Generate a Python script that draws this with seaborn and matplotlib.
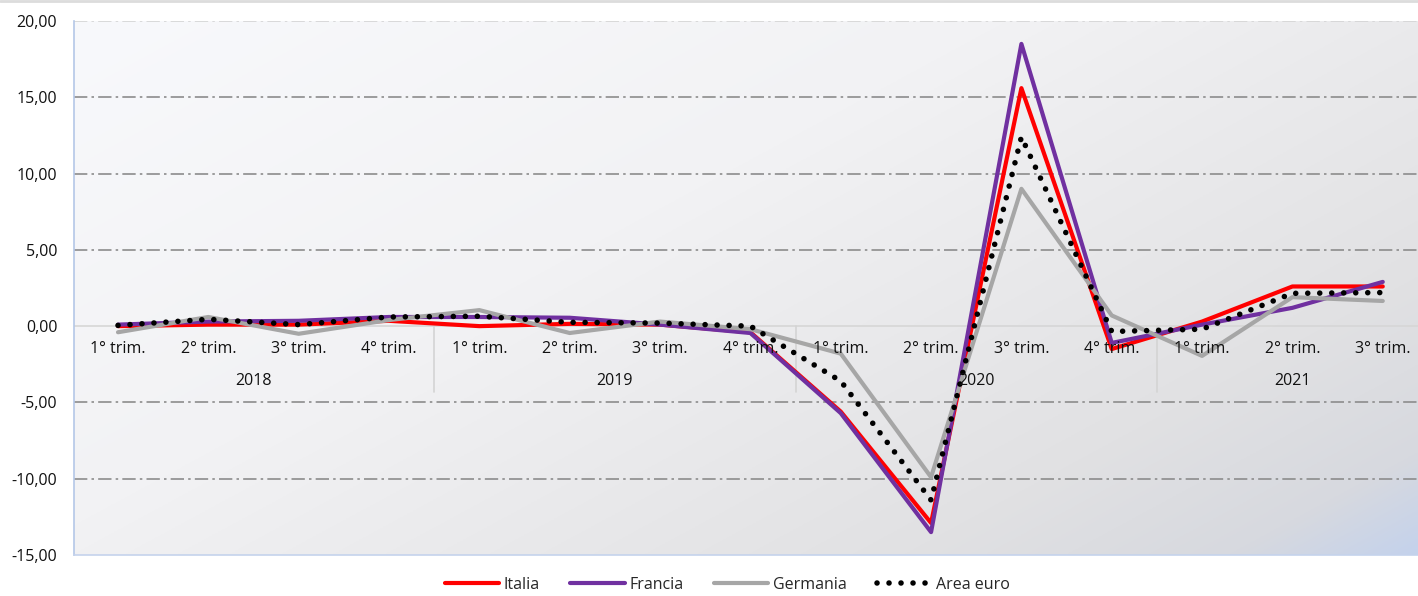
import numpy as np
import pandas as pd
import matplotlib
matplotlib.use("Agg")
import matplotlib.pyplot as plt
from matplotlib.lines import Line2D
import seaborn as sns

# quarterly values
quarters = ["1° trim.", "2° trim.", "3° trim.", "4° trim.",
            "1° trim.", "2° trim.", "3° trim.", "4° trim.",
            "1° trim.", "2° trim.", "3° trim.", "4° trim.",
            "1° trim.", "2° trim.", "3° trim."]
years = ["2018", "2019", "2020", "2021"]
year_centres = [1.5, 5.5, 9.5, 13.0]

italia = [0.0, 0.1, 0.1, 0.35, 0.0, 0.15, 0.1, -0.4, -5.6, -12.9, 15.6, -1.5, 0.3, 2.6, 2.6]
francia = [0.1, 0.3, 0.35, 0.6, 0.6, 0.55, 0.1, -0.45, -5.7, -13.5, 18.5, -1.1, 0.1, 1.2, 2.9]
germania = [-0.4, 0.6, -0.5, 0.4, 1.05, -0.45, 0.3, -0.2, -1.8, -9.9, 9.0, 0.7, -1.95, 1.9, 1.65]
area_euro = [0.05, 0.45, 0.1, 0.6, 0.65, 0.25, 0.2, 0.0, -3.6, -11.4, 12.4, -0.35, -0.2, 2.15, 2.2]

series = ["Italia", "Francia", "Germania", "Area euro"]
colors = {"Italia": "#ff0000", "Francia": "#7030a0", "Germania": "#a6a6a6", "Area euro": "#000000"}

df = pd.DataFrame({
    "idx": np.tile(np.arange(len(quarters)), 4),
    "val": italia + francia + germania + area_euro,
    "serie": np.repeat(series, len(quarters)),
})

sns.set_style("white")
plt.rcParams["font.family"] = ["Open Sans", "DejaVu Sans"]

fig = plt.figure(figsize=(14.18, 5.96), dpi=100)
ax = fig.add_axes([74 / 1418, 1 - 555 / 596, 1 - 74 / 1418, (555 - 21) / 596])

# gradient background of the plot area
h, w = 200, 400
xx, yy = np.meshgrid(np.linspace(0, 1, w), np.linspace(0, 1, h))
d = (xx * 0.75 + yy * 0.55) / 1.3
stops = [0.0, 0.4, 0.78, 0.92, 1.0]
cols = np.array([[248, 249, 252], [242, 242, 244], [225, 225, 227], [215, 217, 223], [196, 210, 236]]) / 255
img = np.stack([np.interp(d, stops, cols[:, k]) for k in range(3)], axis=-1)
ax.imshow(img, extent=[0, 1, 0, 1], transform=ax.transAxes, aspect="auto", zorder=0, origin="upper")

# gridlines
for yv in [-10, -5, 5, 10, 15]:
    ax.axhline(yv, color="#8c8c8c", lw=1.2, ls=(0, (8, 2.5, 1.5, 2.5)), zorder=1)
ax.axhline(20, color="#d4d4d4", lw=1.2, ls=(0, (8, 2.5, 1.5, 2.5)), zorder=1)
ax.axhline(0, color="#d6d6d6", lw=1.2, zorder=1)

# category separators
for xv in [3.5, 7.5, 11.5]:
    ax.plot([xv, xv], [0, -4.3], color="#d4d4d4", lw=1.2, zorder=1)

for i, name in enumerate(series):
    sub = df[df["serie"] == name]
    if name == "Area euro":
        sns.lineplot(data=sub, x="idx", y="val", ax=ax, color=colors[name], lw=4.0,
                     dashes=False, label=name, zorder=5 + i,
                     linestyle=(0, (0.01, 2.15)), dash_capstyle="round")
    else:
        sns.lineplot(data=sub, x="idx", y="val", ax=ax, color=colors[name], lw=3.0,
                     label=name, zorder=5 + i, solid_capstyle="round")

# two-level category axis
for i, q in enumerate(quarters):
    ax.text(i, -1.5, q, ha="center", va="center", fontsize=11.5, color="#111111", zorder=10)
for x, yr in zip(year_centres, years):
    ax.text(x, -3.6, yr, ha="center", va="center", fontsize=11.5, color="#111111", zorder=10)

ax.set_xlim(-0.487, 14.39)
ax.set_ylim(-15, 20)
ax.set_yticks(np.arange(-15, 21, 5))
ax.set_yticklabels([f"{v:.2f}".replace(".", ",") for v in np.arange(-15, 21, 5)])
ax.set_xticks([])
ax.set_xlabel("")
ax.set_ylabel("")
ax.tick_params(axis="y", length=0, pad=12, labelsize=11.5, labelcolor="#111111")

for s in ["top", "right"]:
    ax.spines[s].set_visible(False)
ax.spines["left"].set_color("#b4c7e7")
ax.spines["bottom"].set_color("#c5d3ec")
ax.spines["left"].set_linewidth(1.2)
ax.spines["bottom"].set_linewidth(1.2)

handles, labels = ax.get_legend_handles_labels()
ax.get_legend().remove()
fig.legend(handles, labels, loc="center", bbox_to_anchor=(0.513, 0.019), ncol=4,
           frameon=False, fontsize=11.5, handlelength=3.4, columnspacing=1.9,
           handletextpad=0.3, borderpad=0.1)

fig.add_artist(Line2D([0, 1], [0.998, 0.998], color="#dcdcdc", lw=2, transform=fig.transFigure))

fig.savefig("out.png", dpi=100)
plt.close(fig)
